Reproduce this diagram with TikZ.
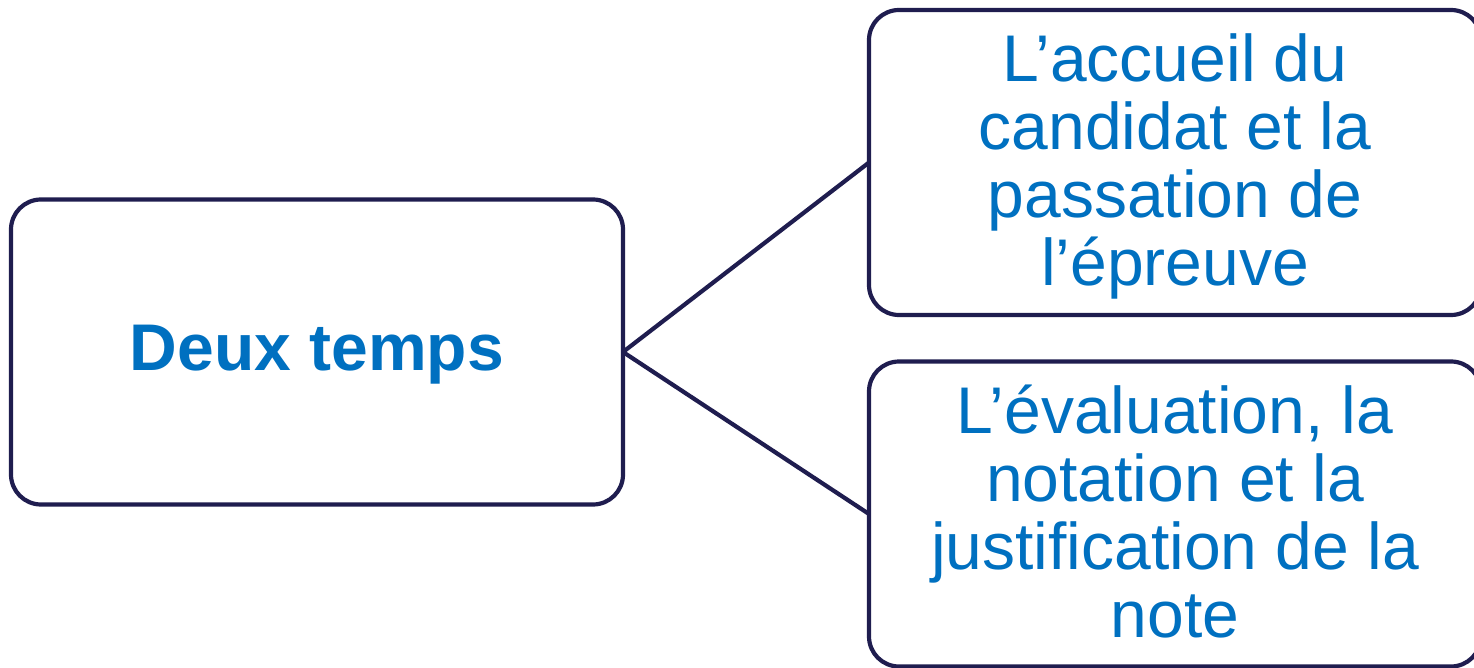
\documentclass[tikz,border=0pt]{standalone}
\usepackage{fontspec}
\setmainfont{Liberation Sans}
\definecolor{boxline}{RGB}{31,29,79}
\definecolor{txtblue}{RGB}{0,112,192}
\begin{document}
\begin{tikzpicture}[x=1pt,y=-1pt,
  card/.style={draw=boxline, line width=4.2pt, rounded corners=30pt, rectangle,
    minimum width=612pt, minimum height=305pt, inner sep=0pt, outer sep=0pt,
    text=txtblue, align=center, font=\fontsize{66pt}{68pt}\selectfont},
  blurb/.style={text=txtblue, align=center, font=\fontsize{66pt}{68pt}\selectfont, inner sep=0pt},
  link/.style={draw=boxline, line width=4.2pt}]
\useasboundingbox (0,0) rectangle (1474,668);
\node[card] (left) at (317,352) {};
\node[blurb, font=\fontsize{66pt}{68pt}\selectfont\bfseries] (lefttext) at (317,355) {Deux temps};
\node[card] (top) at (1175,162.5) {};
\node[card] (bot) at (1175,514) {};
\node[blurb] (toptext) at (1175,166) {L’accueil du\\candidat et la\\passation de\\l’épreuve};
\node[blurb] (bottext) at (1175,512) {L’évaluation, la\\notation et la\\justification de la\\note};
\draw[link] (left.east) -- (top.west);
\draw[link] (left.east) -- (bot.west);
\end{tikzpicture}
\end{document}
